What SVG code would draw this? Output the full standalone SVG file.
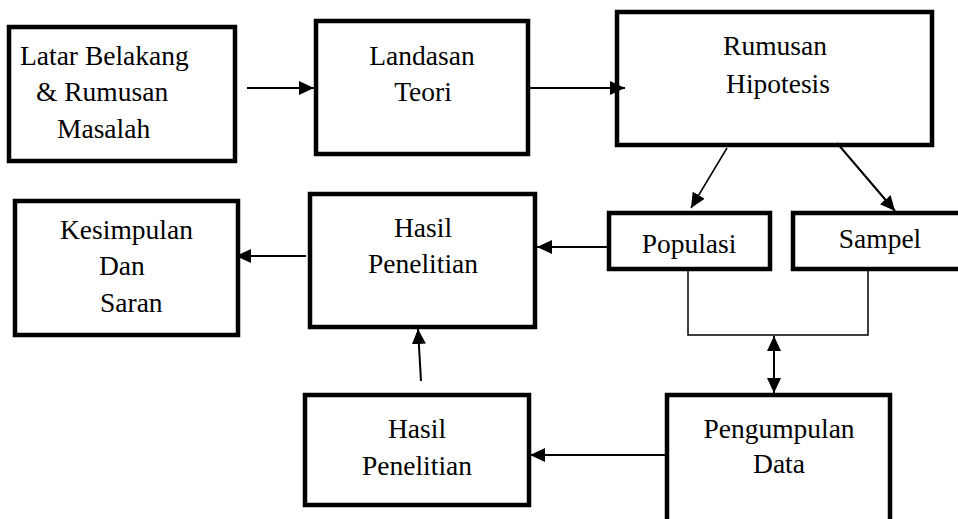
<svg xmlns="http://www.w3.org/2000/svg" width="958" height="519" viewBox="0 0 958 519">
<style>
.box{fill:#fff;stroke:#000;stroke-width:4.5}
.t{font-family:"Liberation Serif","Times New Roman",serif;font-size:27.5px;fill:#000}
.c{text-anchor:middle}
.ln{fill:none;stroke:#000;stroke-width:2}
.thin{fill:none;stroke:#000;stroke-width:1.5}
</style>
<defs>
<marker id="ah" markerUnits="userSpaceOnUse" markerWidth="15" markerHeight="14" refX="15" refY="7" orient="auto-start-reverse" viewBox="0 0 15 14">
<path d="M0,0 L15,7 L0,14 z" fill="#000"/>
</marker>
</defs>
<rect width="958" height="519" fill="#fff"/>
<g id="latar">
<rect class="box" x="9" y="27" width="226" height="134"/>
<text class="t" x="20" y="65">Latar Belakang</text>
<text class="t" x="36" y="101">&amp; Rumusan</text>
<text class="t" x="57" y="138">Masalah</text>
</g>
<g id="landasan">
<rect class="box" x="316" y="21" width="212" height="133"/>
<text class="t c" x="422" y="65">Landasan</text>
<text class="t c" x="423" y="101">Teori</text>
</g>
<g id="rumusan">
<rect class="box" x="617" y="12" width="315" height="133"/>
<text class="t c" x="775" y="55">Rumusan</text>
<text class="t c" x="778" y="93">Hipotesis</text>
</g>
<g id="populasi">
<rect class="box" x="609" y="213" width="161" height="56"/>
<text class="t c" x="689" y="253">Populasi</text>
</g>
<g id="sampel">
<rect class="box" x="793" y="213" width="170" height="56"/>
<text class="t c" x="880" y="248">Sampel</text>
</g>
<g id="hasil1">
<rect class="box" x="310" y="194" width="225" height="133"/>
<text class="t c" x="423" y="237">Hasil</text>
<text class="t c" x="423" y="273">Penelitian</text>
</g>
<g id="kesimpulan">
<rect class="box" x="15" y="201" width="223" height="134"/>
<text class="t" x="60" y="239">Kesimpulan</text>
<text class="t" x="99" y="275">Dan</text>
<text class="t" x="100" y="312">Saran</text>
</g>
<g id="hasil2">
<rect class="box" x="305" y="395" width="224" height="110"/>
<text class="t c" x="417" y="438">Hasil</text>
<text class="t c" x="417" y="475">Penelitian</text>
</g>
<g id="pengumpulan">
<rect class="box" x="667" y="395" width="223" height="135"/>
<text class="t c" x="779" y="438">Pengumpulan</text>
<text class="t c" x="779" y="473">Data</text>
</g>
<g id="connectors">
<line class="ln" x1="247" y1="88" x2="314" y2="88" marker-end="url(#ah)"/>
<line class="ln" x1="530" y1="88" x2="625" y2="88" marker-end="url(#ah)"/>
<line class="thin" x1="727" y1="148" x2="691" y2="208" marker-end="url(#ah)"/>
<line class="ln" x1="837" y1="143" x2="895" y2="211" marker-end="url(#ah)"/>
<line class="ln" x1="608" y1="247" x2="537" y2="247" marker-end="url(#ah)"/>
<line class="ln" x1="306" y1="256" x2="236" y2="256" marker-end="url(#ah)"/>
<polyline class="thin" points="688,271 688,335 868,335 868,271"/>
<line class="ln" x1="774" y1="336" x2="774" y2="393" marker-start="url(#ah)" marker-end="url(#ah)"/>
<line class="ln" x1="665" y1="455" x2="530" y2="455" marker-end="url(#ah)"/>
<line class="ln" x1="421" y1="381" x2="418" y2="329" marker-end="url(#ah)"/>
</g>
</svg>
